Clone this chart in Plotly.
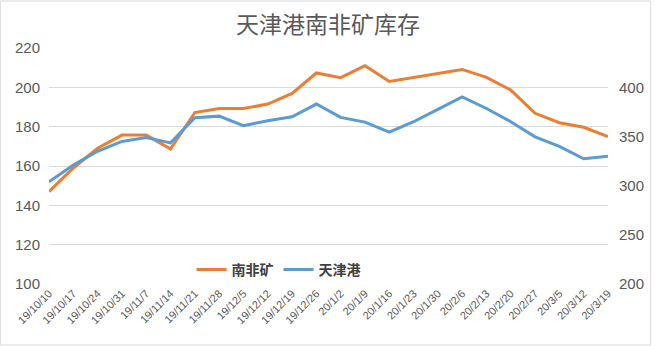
import plotly.graph_objects as go

dates = ["19/10/10", "19/10/17", "19/10/24", "19/10/31", "19/11/7", "19/11/14", "19/11/21", "19/11/28",
         "19/12/5", "19/12/12", "19/12/19", "19/12/26", "20/1/2", "20/1/9", "20/1/16", "20/1/23", "20/1/30",
         "20/2/6", "20/2/13", "20/2/20", "20/2/27", "20/3/5", "20/3/12", "20/3/19"]
south_africa = [147, 159, 169, 175.7, 175.7, 168.6, 187.2, 189.2, 189.2, 191.5, 196.9, 207.3,
                204.9, 211.0, 203.0, 205.1, 207.1, 209.1, 205.1, 198.6, 186.8, 182.0, 179.7, 174.9]
tianjin = [304, 321, 335, 345, 349, 343.5, 369, 370.7, 361, 366, 370, 383,
           369.4, 364.6, 354.5, 365, 377.5, 390.3, 378.5, 365, 349.7, 340, 327.3, 330]
left_ticks = [100, 120, 140, 160, 180, 200, 220]
right_ticks = [200, 250, 300, 350, 400]

FONT = "Liberation Sans, Arial, Noto Sans CJK SC, sans-serif"
CJK = "Noto Sans CJK SC, Microsoft YaHei, sans-serif"

fig = go.Figure()
fig.add_trace(go.Scatter(x=dates, y=south_africa, name="南非矿", mode="lines",
                         line=dict(color="#ED7D31", width=3), yaxis="y"))
fig.add_trace(go.Scatter(x=dates, y=tianjin, name="天津港", mode="lines",
                         line=dict(color="#5B9BD5", width=3), yaxis="y2"))

fig.update_layout(
    width=656, height=346,
    margin=dict(l=49, r=44, t=48, b=62),
    paper_bgcolor="white", plot_bgcolor="white",
    title=dict(text="天津港南非矿库存", x=0.5, xanchor="center", y=1 - 25 / 346, yanchor="middle",
               font=dict(family=CJK, size=23, color="#595959")),
    xaxis=dict(type="category", range=[0, len(dates) - 1], tickangle=-45,
               tickfont=dict(family=FONT, size=11, color="#595959"),
               showgrid=False, showline=False, ticks=""),
    yaxis=dict(range=[100, 220], tickvals=left_ticks, showgrid=True, gridcolor="#D9D9D9", gridwidth=1,
               zeroline=False, showline=False, ticks="", ticklabelstandoff=8,
               tickfont=dict(family=FONT, size=15, color="#595959")),
    yaxis2=dict(range=[200, 440], tickvals=right_ticks, overlaying="y", side="right", showgrid=False,
                zeroline=False, showline=False, ticks="", ticklabelstandoff=10,
                tickfont=dict(family=FONT, size=15, color="#595959")),
    legend=dict(orientation="h", x=0.255, xanchor="left", y=0.06, yanchor="middle",
                bgcolor="rgba(0,0,0,0)", itemwidth=30, tracegroupgap=0,
                font=dict(family=CJK, size=14, color="#404040", weight="bold")),
    shapes=[dict(type="rect", xref="paper", yref="paper", x0=-49 / 563, x1=1 + 43 / 563,
                 y0=-61 / 236, y1=1 + 47 / 236, line=dict(color="#D9D9D9", width=1))],
)

fig.write_html("out.html")
